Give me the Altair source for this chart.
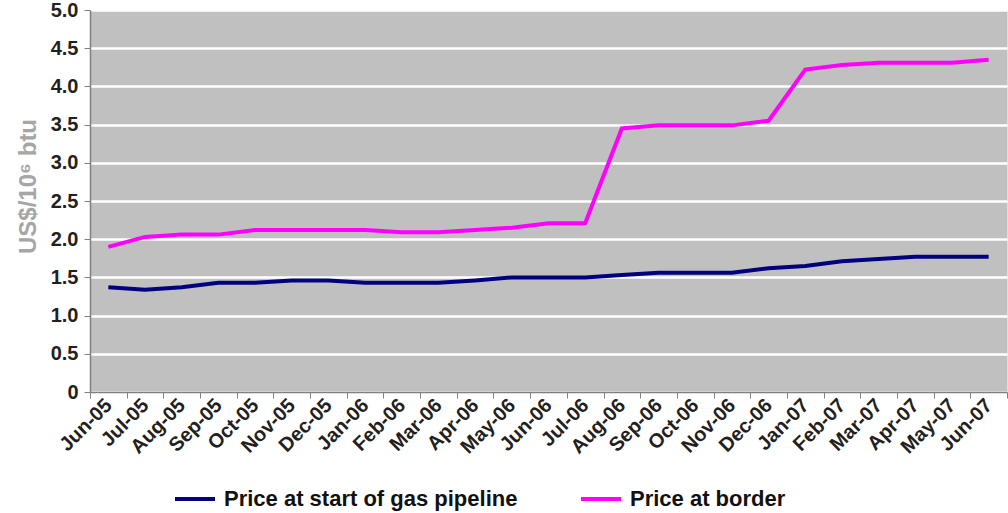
import altair as alt
import pandas as pd

months = ["Jun-05", "Jul-05", "Aug-05", "Sep-05", "Oct-05", "Nov-05", "Dec-05",
          "Jan-06", "Feb-06", "Mar-06", "Apr-06", "May-06", "Jun-06", "Jul-06",
          "Aug-06", "Sep-06", "Oct-06", "Nov-06", "Dec-06", "Jan-07", "Feb-07",
          "Mar-07", "Apr-07", "May-07", "Jun-07"]
pipeline_start = [1.37, 1.34, 1.37, 1.43, 1.43, 1.46, 1.46, 1.43, 1.43, 1.43, 1.46,
                  1.50, 1.50, 1.50, 1.53, 1.56, 1.56, 1.56, 1.62, 1.65, 1.71, 1.74,
                  1.77, 1.77, 1.77]
border = [1.90, 2.03, 2.06, 2.06, 2.12, 2.12, 2.12, 2.12, 2.09, 2.09, 2.12, 2.15,
          2.21, 2.21, 3.45, 3.49, 3.49, 3.49, 3.55, 4.22, 4.28, 4.31, 4.31, 4.31, 4.35]
series_names = ["Price at start of gas pipeline", "Price at border"]
series_colors = ["#000080", "#FF00FF"]

rows = []
for name, vals in zip(series_names, [pipeline_start, border]):
    for m, v in zip(months, vals):
        rows.append({"month": m, "value": v, "series": name})
df = pd.DataFrame(rows)

FONT = "Liberation Sans"

chart = alt.Chart(df).mark_line(strokeWidth=4).encode(
    x=alt.X("month:N", sort=months,
            scale=alt.Scale(type="band", paddingInner=0, paddingOuter=0),
            axis=alt.Axis(title=None, labelAngle=-45, labelAlign="right",
                          labelBaseline="middle", tickBand="extent",
                          labelFont=FONT, labelFontSize=20, labelFontWeight="bold",
                          labelColor="#231F20", labelPadding=4,
                          domainColor="#808080", domainWidth=1.5,
                          tickColor="#808080", tickSize=6, grid=False)),
    y=alt.Y("value:Q", scale=alt.Scale(domain=[0, 5], nice=False),
            axis=alt.Axis(title="US$/10⁶ btu", values=[i * 0.5 for i in range(11)],
                          labelExpr="datum.value == 0 ? '0' : format(datum.value, '.1f')",
                          labelFont=FONT, labelFontSize=20, labelFontWeight="bold",
                          labelColor="#231F20", labelPadding=6,
                          titleFont=FONT, titleFontSize=24, titleFontWeight="bold",
                          titleColor="#A6A6A6", titlePadding=10, titleY=176,
                          domainColor="#808080", domainWidth=1.5,
                          tickColor="#808080", tickSize=6,
                          grid=True, gridColor="#FFFFFF", gridWidth=2.5)),
    color=alt.Color("series:N",
                    scale=alt.Scale(domain=series_names, range=series_colors),
                    legend=alt.Legend(title=None, orient="none", direction="horizontal",
                                      legendX=83, legendY=467, padding=0,
                                      symbolType="stroke", symbolSize=1600,
                                      symbolStrokeWidth=4, columnPadding=55,
                                      labelFont=FONT, labelFontSize=22, labelLimit=0,
                                      labelFontWeight="bold", labelColor="#111111",
                                      labelOffset=7)),
).properties(
    width=917, height=382,
    autosize=alt.AutoSizeParams(type="none"),
    padding={"left": 90, "top": 10, "right": 1, "bottom": 121},
).configure_view(fill="#C0C0C0", stroke="transparent")

chart.save("out.html", embed_options={"renderer": "svg", "actions": False})
